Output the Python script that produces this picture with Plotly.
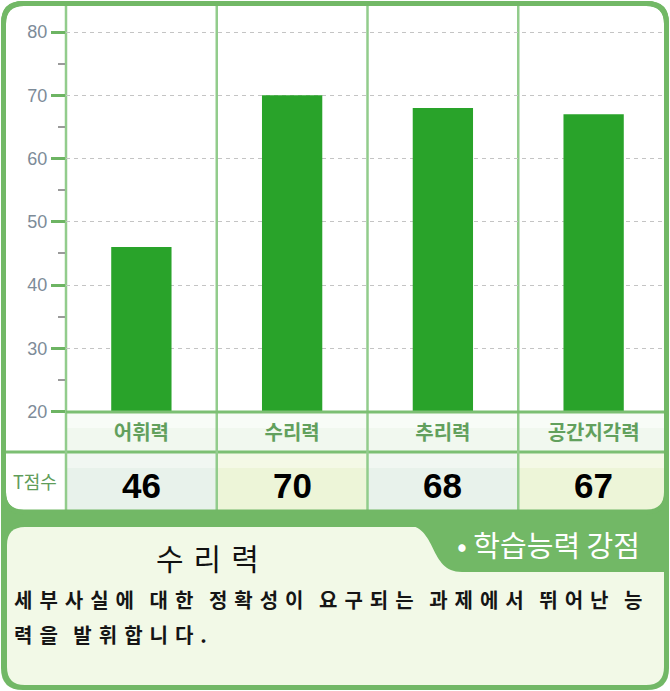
import plotly.graph_objects as go

# ---------------- data ----------------
categories = ["어휘력", "수리력", "추리력", "공간지각력"]
t_scores = [46, 70, 68, 67]
y_ticks = [20, 30, 40, 50, 60, 70, 80]
row_label = "T점수"
tab_label = "• 학습능력 강점"
strength_title = "수리력"
desc_lines = ["세부사실에 대한 정확성이 요구되는 과제에서 뛰어난 능", "력을 발휘합니다."]

# ---------------- geometry (pixels) ----------------
W, H = 670, 691
PLOT_L, PLOT_R = 66, 669
PLOT_TOP, PLOT_BOT = 5, 411.5
Y80_PX = 32
px_per_unit = (PLOT_BOT - Y80_PX) / (80 - 20)
Y_MAX = 20 + (PLOT_BOT - PLOT_TOP) / px_per_unit
COL_W = (PLOT_R - PLOT_L) / len(categories)

G = "#72b866"
KR = "Noto Sans CJK KR"
AR = "Arial, Liberation Sans, sans-serif"


def px(x):
    return x / W


def py(y):
    return 1 - y / H


def path(cmds):
    out = []
    for c in cmds:
        op, nums = c[0], c[1:]
        pts = []
        for i in range(0, len(nums), 2):
            pts.append(f"{px(nums[i]):.5f},{py(nums[i+1]):.5f}")
        out.append(op + " " + " ".join(pts))
    return " ".join(out)


def rrect(x0, y0, x1, y1, r, tl=True, tr=True, br=True, bl=True):
    c = []
    c.append(("M", x0 + (r if tl else 0), y0))
    if tr:
        c += [("L", x1 - r, y0), ("Q", x1, y0, x1, y0 + r)]
    else:
        c += [("L", x1, y0)]
    if br:
        c += [("L", x1, y1 - r), ("Q", x1, y1, x1 - r, y1)]
    else:
        c += [("L", x1, y1)]
    if bl:
        c += [("L", x0 + r, y1), ("Q", x0, y1, x0, y1 - r)]
    else:
        c += [("L", x0, y1)]
    if tl:
        c += [("L", x0, y0 + r), ("Q", x0, y0, x0 + r, y0)]
    else:
        c += [("L", x0, y0)]
    c.append(("Z",))
    return path(c)


shapes = []
# outer green frame
shapes.append(dict(type="path", xref="paper", yref="paper", path=rrect(1, 1, 669, 690, 22),
                   fillcolor=G, line=dict(width=0), layer="below"))
# white chart panel
shapes.append(dict(type="path", xref="paper", yref="paper", path=rrect(6, 6, 664, 510, 18),
                   fillcolor="white", line=dict(width=0), layer="below"))
# category label row background (soft vertical gradient)
shapes.append(dict(type="rect", xref="paper", yref="paper", x0=px(PLOT_L), x1=px(664),
                   y0=py(451), y1=py(413), fillcolor="#f1f8ef", line=dict(width=0), layer="below"))
shapes.append(dict(type="rect", xref="paper", yref="paper", x0=px(PLOT_L), x1=px(664),
                   y0=py(428), y1=py(413), fillcolor="#f8fcf7", line=dict(width=0), layer="below"))
# T score row cell backgrounds
cell_cols = ["#e8f2eb", "#edf5d8"]
cell_tops = ["#f1f7f2", "#f4f9e6"]
for i in range(len(categories)):
    x0 = PLOT_L + i * COL_W
    x1 = min(PLOT_L + (i + 1) * COL_W, 664)
    if i == len(categories) - 1:
        shapes.append(dict(type="path", xref="paper", yref="paper",
                           path=rrect(x0, 453, x1, 510, 16, tl=False, tr=False, bl=False),
                           fillcolor=cell_cols[i % 2], line=dict(width=0), layer="below"))
    else:
        shapes.append(dict(type="rect", xref="paper", yref="paper", x0=px(x0), x1=px(x1),
                           y0=py(510), y1=py(453), fillcolor=cell_cols[i % 2],
                           line=dict(width=0), layer="below"))
    shapes.append(dict(type="rect", xref="paper", yref="paper", x0=px(x0), x1=px(x1),
                       y0=py(468), y1=py(453), fillcolor=cell_tops[i % 2],
                       line=dict(width=0), layer="below"))
# horizontal row line between labels and scores
shapes.append(dict(type="line", xref="paper", yref="paper", x0=px(6), x1=px(664),
                   y0=py(452), y1=py(452), line=dict(color="#7cbf73", width=3), layer="below"))
# vertical column separators
for i in range(len(categories)):
    xx = PLOT_L + i * COL_W
    shapes.append(dict(type="line", xref="paper", yref="paper", x0=px(xx), x1=px(xx),
                       y0=py(6), y1=py(510), line=dict(color="#92cc8c", width=2.5), layer="below"))
# bottom light box
shapes.append(dict(type="path", xref="paper", yref="paper", path=rrect(7, 527, 664, 685, 18),
                   fillcolor="#f2f9e7", line=dict(width=0), layer="below"))
# tab
shapes.append(dict(type="path", xref="paper", yref="paper",
                   path=path([("M", 405, 525), ("C", 438, 525, 428, 572, 462, 572),
                              ("L", 666, 572), ("L", 666, 525), ("Z",)]),
                   fillcolor=G, line=dict(width=0), layer="below"))
# baseline row line (above bars/grid)
shapes.append(dict(type="line", xref="paper", yref="paper", x0=px(PLOT_L), x1=px(664),
                   y0=py(412), y1=py(412), line=dict(color="#7cbf73", width=3), layer="above"))
# panel border stroke above grid
shapes.append(dict(type="path", xref="paper", yref="paper", path=rrect(3.5, 3.5, 666.5, 512, 20),
                   fillcolor="rgba(0,0,0,0)", line=dict(color=G, width=5), layer="above"))

fig = go.Figure()
fig.add_trace(go.Bar(x=categories, y=t_scores, marker=dict(color="#29a32a", line=dict(width=0)),
                     width=0.4, hoverinfo="skip"))

annotations = []
for c, v in zip(categories, t_scores):
    annotations.append(dict(x=c, xref="x", y=py(485), yref="paper", text=f"<b>{v}</b>",
                            showarrow=False, font=dict(family=AR, size=35, color="#000"),
                            xanchor="center", yanchor="middle"))
annotations.append(dict(x=px(35), y=py(481), xref="paper", yref="paper", text=row_label,
                        showarrow=False, font=dict(family=KR, size=18, color="#5f9d5a"),
                        xanchor="center", yanchor="middle"))
annotations.append(dict(x=px(548), y=py(544), xref="paper", yref="paper", text=tab_label,
                        showarrow=False, font=dict(family=KR, size=29, color="white"),
                        xanchor="center", yanchor="middle"))
annotations.append(dict(x=px(212), y=py(557), xref="paper", yref="paper",
                        text=f'<span style="letter-spacing:10px">{strength_title}</span>',
                        showarrow=False, font=dict(family=KR, size=30, color="#111"),
                        xanchor="center", yanchor="middle"))
for i, line in enumerate(desc_lines):
    annotations.append(dict(x=px(12), y=py(599 + i * 35), xref="paper", yref="paper",
                            text=f'<span style="letter-spacing:7px;word-spacing:-3px"><b>{line}</b></span>',
                            showarrow=False, font=dict(family=KR, size=20, color="#151515"),
                            xanchor="left", yanchor="middle"))

fig.update_layout(
    template="none",
    width=W, height=H, margin=dict(l=0, r=0, t=0, b=0, pad=0, autoexpand=False),
    paper_bgcolor="white", plot_bgcolor="rgba(0,0,0,0)",
    showlegend=False, shapes=shapes, annotations=annotations,
    xaxis=dict(domain=[px(PLOT_L), px(PLOT_R)], range=[-0.5, len(categories) - 0.5],
               showgrid=False, zeroline=False, showline=False, ticks="", automargin=False,
               tickfont=dict(family=KR, size=20, color="#62a05d", weight="bold"),
               ticklabelstandoff=7, fixedrange=True),
    yaxis=dict(domain=[py(PLOT_BOT), py(PLOT_TOP)], range=[20, Y_MAX], automargin=False,
               tickvals=y_ticks, ticks="outside", ticklen=14, tickwidth=3, tickcolor="#6db463",
               tickfont=dict(family=AR, size=18, color="#7d8b98"), ticklabelstandoff=0,
               showgrid=True, gridcolor="#c4c4c4", gridwidth=1, griddash="4px,4px",
               zeroline=False, showline=False, fixedrange=True,
               minor=dict(tickvals=[25, 35, 45, 55, 65, 75], ticks="outside", ticklen=7,
                          tickwidth=2, tickcolor="#9a9a9a", showgrid=False)),
    bargap=0.6,
)

fig.write_html("out.html", config={"displayModeBar": False},
               post_script="document.body.style.margin='0';"
                           "document.documentElement.style.overflow='hidden';"
                           "document.body.style.overflow='hidden';")
